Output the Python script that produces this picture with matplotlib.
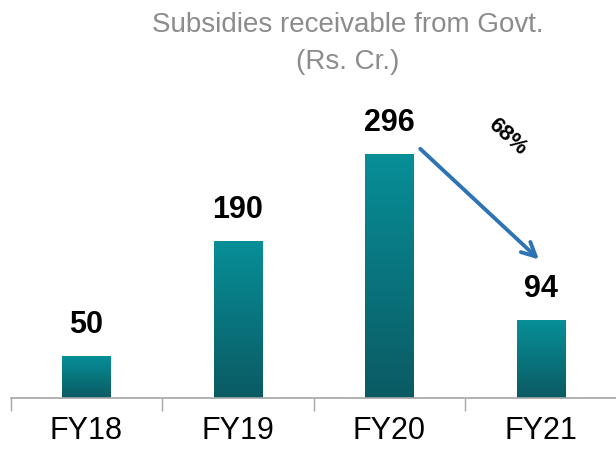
"""
Subsidies receivable from Govt. by financial year,
drawn as gradient-filled bars with a change arrow.
"""

import numpy as np
import matplotlib.pyplot as plt
from matplotlib.colors import LinearSegmentedColormap

years = ["FY18", "FY19", "FY20", "FY21"]
subsidies = [50, 190, 296, 94]
change_label = "68%"

plt.rcParams['font.family'] = ['Liberation Sans', 'DejaVu Sans']

fig = plt.figure(figsize=(6.16, 4.5), dpi=100)
ax = fig.add_axes([0.0172, 0.1156, 0.984, 0.684])

x = np.arange(len(years))
bar_width = 0.32

bars = ax.bar(x, subsidies, width=bar_width, color='none', edgecolor='none', zorder=2)

# teal gradient, light at the top and dark at the base
teal = LinearSegmentedColormap.from_list("teal", ["#0b5a63", "#078f98"])
grad = np.linspace(0, 1, 256).reshape(-1, 1)
for rect in bars:
    bx, bw, bh = rect.get_x(), rect.get_width(), rect.get_height()
    ax.imshow(grad, cmap=teal, origin='lower', aspect='auto',
              extent=[bx, bx + bw, 0, bh], zorder=2)

for xi, v in zip(x, subsidies):
    ax.annotate(str(v), (xi, v), xytext=(0, 12), textcoords='offset points',
                ha='center', va='bottom', fontsize=22, fontweight='bold', color='black')

ax.set_xlim(-0.5, len(years) - 0.5)
ax.set_ylim(0, 374)

ax.set_xticks(x - 0.5, minor=False)
ax.set_xticklabels([])
ax.set_xticks(x, minor=True)
ax.set_xticklabels(years, minor=True, fontsize=22)
ax.tick_params(axis='x', which='major', length=9, width=1, color='#a6a6a6')
ax.tick_params(axis='x', which='minor', length=0, pad=13)
ax.set_yticks([])

for side in ['top', 'right', 'left']:
    ax.spines[side].set_visible(False)
ax.spines['bottom'].set_color('#a6a6a6')
ax.spines['bottom'].set_linewidth(1.2)

# decline arrow from FY20 to FY21
ax.annotate("", xy=(3.0, subsidies[3] + 72), xytext=(2 + bar_width / 2 + 0.03, subsidies[2] + 9),
            arrowprops=dict(arrowstyle='->,head_length=1.0,head_width=0.5',
                            color='#2e74b5', lw=2.8), zorder=4)
ax.text(2.78, 317, change_label, rotation=-42, ha='center', va='center',
        fontsize=16, fontweight='bold', color='black')

fig.text(0.565, 0.945, "Subsidies receivable from Govt.", ha='center', va='center',
         fontsize=20, color='#8c8c8c')
fig.text(0.565, 0.862, "(Rs. Cr.)", ha='center', va='center',
         fontsize=20, color='#8c8c8c')

fig.savefig("out.png", dpi=100)
